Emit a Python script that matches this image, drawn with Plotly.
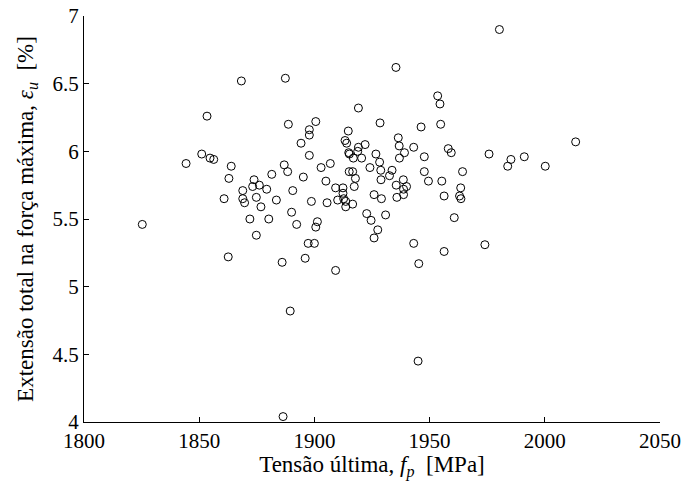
import plotly.graph_objects as go

# Tensão última f_p [MPa]
fp = [1825.3, 1868.3, 1887.4, 1853.4, 1919.1, 1888.7, 1900.6, 1897.8, 1897.8, 1894.2,
      1914.7, 1913.3, 1914.0, 1922.0, 1919.1, 1918.8, 1914.9, 1915.2, 1916.9, 1920.5,
      1926.7, 1928.5, 1851.1, 1854.7, 1856.3, 1844.3, 1863.9, 1862.9, 1897.8, 1886.9,
      1888.4, 1881.5, 1873.8, 1873.2, 1876.1, 1879.3, 1868.9, 1874.8, 1868.9, 1869.7,
      1860.8, 1876.8, 1883.5, 1890.6, 1895.2, 1902.9, 1906.9, 1905.0, 1898.7, 1905.5,
      1909.2, 1912.4, 1912.4, 1912.7, 1910.1, 1913.6, 1913.6, 1916.6, 1917.3, 1917.8,
      1915.1, 1916.6, 1924.1, 1928.3, 1928.8, 1928.9, 1925.9, 1929.1, 1890.1, 1922.7,
      1924.6, 1872.0, 1880.2, 1874.8, 1862.6, 1892.3, 1901.3, 1900.6, 1897.3, 1900.0,
      1896.0, 1886.0, 1909.2, 1889.5, 1886.4, 1927.5, 1925.9, 1980.3, 1935.4, 1953.5,
      1954.5, 1946.3, 1954.8, 1936.4, 1936.8, 1943.1, 1939.1, 1936.9, 1933.7, 1932.6,
      1947.7, 1947.7, 1949.5, 1958.1, 1959.4, 1964.3, 1955.3, 1938.6, 1940.0, 1935.5,
      1938.7, 1938.7, 1935.8, 1930.9, 1956.3, 1963.5, 1963.0, 1963.6, 1960.7, 1975.8,
      1985.3, 1983.9, 1991.1, 2000.2, 2013.4, 1943.1, 1945.3, 1956.3, 1974.0, 1945.0]

# Extensão total na força máxima eps_u [%]
eps_u = [5.46, 6.52, 6.54, 6.26, 6.32, 6.20, 6.22, 6.16, 6.12, 6.06,
         6.15, 6.08, 6.06, 6.05, 6.03, 6.00, 5.99, 5.98, 5.95, 5.95,
         5.98, 6.21, 5.98, 5.95, 5.94, 5.91, 5.89, 5.80, 5.97, 5.90,
         5.85, 5.83, 5.79, 5.74, 5.75, 5.72, 5.71, 5.66, 5.65, 5.62,
         5.65, 5.59, 5.64, 5.71, 5.81, 5.88, 5.91, 5.78, 5.63, 5.62,
         5.73, 5.73, 5.69, 5.65, 5.64, 5.63, 5.59, 5.61, 5.74, 5.80,
         5.85, 5.85, 5.88, 5.92, 5.86, 5.79, 5.68, 5.65, 5.55, 5.54,
         5.49, 5.50, 5.50, 5.38, 5.22, 5.46, 5.48, 5.44, 5.32, 5.32,
         5.21, 5.18, 5.12, 4.82, 4.04, 5.42, 5.36, 6.90, 6.62, 6.41,
         6.35, 6.18, 6.20, 6.10, 6.04, 6.03, 5.99, 5.95, 5.86, 5.82,
         5.96, 5.85, 5.78, 6.02, 5.99, 5.85, 5.78, 5.79, 5.74, 5.75,
         5.72, 5.68, 5.66, 5.53, 5.67, 5.73, 5.67, 5.65, 5.51, 5.98,
         5.94, 5.89, 5.96, 5.89, 6.07, 5.32, 5.17, 5.26, 5.31, 4.45]

x_ticks = [1800, 1850, 1900, 1950, 2000, 2050]
y_ticks = [4, 4.5, 5, 5.5, 6, 6.5, 7]
y_tick_labels = ["4", "4.5", "5", "5.5", "6", "6.5", "7"]

x_title = "Tensão última, <i>f</i><sub><i>p</i></sub>  [MPa]"
y_title = "Extensão total na força máxima, <i>ε</i><sub><i>u</i></sub>  [%]"

FONT = "Liberation Serif"

fig = go.Figure()
fig.add_trace(go.Scatter(
    x=fp, y=eps_u, mode="markers",
    marker=dict(symbol="circle-open", size=8, color="black", line=dict(width=1, color="black")),
    showlegend=False, hoverinfo="x+y",
))

fig.update_layout(
    width=685, height=481,
    margin=dict(l=84, r=25, t=16, b=59, autoexpand=False),
    paper_bgcolor="white", plot_bgcolor="white",
    font=dict(family=FONT, color="black", size=21),
)
fig.update_xaxes(
    range=[1800, 2050], tickvals=x_ticks, ticktext=[str(v) for v in x_ticks],
    showline=True, linecolor="black", linewidth=1, mirror=False,
    ticks="inside", ticklen=5, tickcolor="black", tickwidth=1,
    showgrid=False, zeroline=False,
    tickfont=dict(family=FONT, size=21, color="black"),
    title=dict(text=x_title, font=dict(family=FONT, size=23, color="black"), standoff=0),
)
fig.update_yaxes(
    range=[4, 7], tickvals=y_ticks, ticktext=y_tick_labels,
    showline=True, linecolor="black", linewidth=1, mirror=False,
    ticks="inside", ticklen=5, tickcolor="black", tickwidth=1,
    showgrid=False, zeroline=False,
    tickfont=dict(family=FONT, size=21, color="black"),
    title=dict(text=y_title, font=dict(family=FONT, size=23, color="black"), standoff=12),
)

fig.write_html(
    "out.html",
    config={"displayModeBar": False},
    post_script="document.body.style.margin='0';document.body.style.overflow='hidden';",
)
